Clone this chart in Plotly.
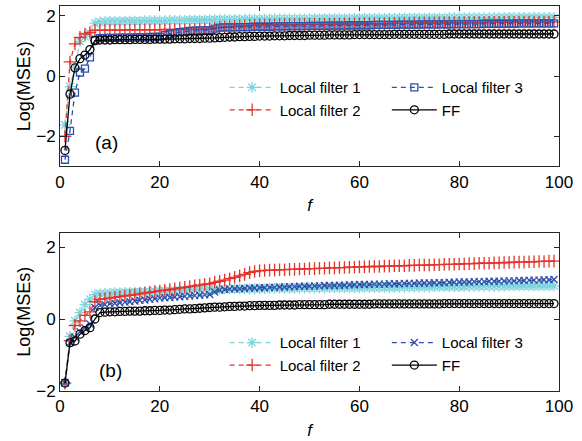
import plotly.graph_objects as go

f = list(range(1, 100))

# ---- panel (a) ----
a_lf1 = [-1.62,-0.35,0.30,1.15,1.32,1.42,1.76,1.80,1.81,1.82,
1.82,1.82,1.83,1.83,1.83,1.83,1.84,1.84,1.84,1.84,
1.84,1.85,1.85,1.85,1.85,1.86,1.86,1.86,1.86,1.87,
1.88,1.88,1.88,1.88,1.88,1.88,1.89,1.89,1.89,1.89,
1.89,1.89,1.90,1.90,1.90,1.90,1.90,1.90,1.90,1.90,
1.91,1.91,1.91,1.91,1.91,1.91,1.91,1.91,1.92,1.92,
1.92,1.92,1.92,1.92,1.92,1.92,1.92,1.93,1.93,1.93,
1.93,1.93,1.93,1.93,1.93,1.93,1.93,1.94,1.94,1.94,
1.94,1.94,1.94,1.94,1.94,1.94,1.94,1.94,1.95,1.95,
1.95,1.95,1.95,1.95,1.95,1.95,1.95,1.95,1.95]
a_lf2 = [-2.00,0.47,1.07,1.29,1.40,1.45,1.52,1.53,1.53,1.53,
1.53,1.53,1.53,1.54,1.54,1.54,1.54,1.54,1.54,1.54,
1.55,1.55,1.55,1.55,1.55,1.55,1.55,1.56,1.56,1.56,
1.60,1.62,1.63,1.64,1.65,1.66,1.67,1.68,1.69,1.70,
1.70,1.70,1.70,1.71,1.71,1.71,1.71,1.71,1.72,1.72,
1.72,1.72,1.72,1.72,1.73,1.73,1.73,1.73,1.73,1.73,
1.74,1.74,1.74,1.74,1.74,1.75,1.75,1.75,1.75,1.75,
1.76,1.76,1.76,1.76,1.76,1.77,1.77,1.77,1.77,1.77,
1.78,1.78,1.78,1.78,1.78,1.79,1.79,1.79,1.79,1.79,
1.79,1.80,1.80,1.80,1.80,1.80,1.80,1.80,1.80]
a_lf3 = [-2.78,-1.82,-0.55,0.12,0.25,0.62,1.20,1.26,1.27,1.27,
1.27,1.28,1.28,1.28,1.29,1.29,1.29,1.30,1.30,1.31,
1.36,1.40,1.43,1.46,1.48,1.50,1.51,1.52,1.52,1.53,
1.58,1.61,1.62,1.62,1.62,1.63,1.63,1.63,1.64,1.64,
1.64,1.64,1.65,1.65,1.65,1.66,1.66,1.66,1.66,1.67,
1.67,1.67,1.67,1.68,1.68,1.68,1.68,1.69,1.69,1.69,
1.69,1.69,1.70,1.70,1.70,1.70,1.70,1.71,1.71,1.71,
1.71,1.71,1.72,1.72,1.72,1.72,1.72,1.72,1.73,1.73,
1.73,1.73,1.73,1.73,1.74,1.74,1.74,1.74,1.74,1.74,
1.74,1.75,1.75,1.75,1.75,1.75,1.75,1.75,1.75]
a_ff = [-2.47,-0.60,0.27,0.58,0.70,0.88,1.18,1.20,1.20,1.20,
1.21,1.21,1.21,1.21,1.22,1.22,1.22,1.22,1.23,1.23,
1.23,1.23,1.24,1.24,1.24,1.25,1.25,1.25,1.26,1.26,
1.27,1.28,1.29,1.30,1.30,1.31,1.31,1.32,1.32,1.33,
1.33,1.33,1.34,1.34,1.34,1.35,1.35,1.35,1.35,1.36,
1.36,1.36,1.36,1.37,1.37,1.37,1.37,1.37,1.38,1.38,
1.38,1.38,1.38,1.38,1.38,1.38,1.39,1.39,1.39,1.39,
1.39,1.39,1.39,1.39,1.39,1.39,1.39,1.40,1.40,1.40,
1.40,1.40,1.40,1.40,1.40,1.40,1.40,1.40,1.40,1.40,
1.40,1.40,1.40,1.40,1.40,1.40,1.40,1.40,1.40]

# ---- panel (b) ----
b_lf1 = [-1.76,-0.48,-0.05,0.18,0.40,0.55,0.68,0.70,0.71,0.72,
0.73,0.73,0.74,0.74,0.75,0.75,0.76,0.76,0.77,0.78,
0.78,0.79,0.79,0.80,0.80,0.81,0.81,0.82,0.82,0.83,
0.83,0.83,0.83,0.84,0.84,0.84,0.84,0.84,0.84,0.84,
0.84,0.85,0.85,0.85,0.85,0.85,0.85,0.86,0.86,0.86,
0.86,0.86,0.86,0.87,0.87,0.87,0.87,0.87,0.87,0.87,
0.88,0.88,0.88,0.88,0.88,0.88,0.88,0.89,0.89,0.89,
0.89,0.89,0.89,0.89,0.90,0.90,0.90,0.90,0.90,0.90,
0.90,0.91,0.91,0.91,0.91,0.91,0.91,0.91,0.91,0.92,
0.92,0.92,0.92,0.92,0.92,0.92,0.92,0.92,0.92]
b_lf2 = [-1.78,-0.60,-0.18,-0.05,0.10,0.20,0.48,0.55,0.56,0.58,
0.60,0.62,0.64,0.66,0.68,0.70,0.72,0.74,0.76,0.78,
0.80,0.82,0.84,0.86,0.88,0.90,0.92,0.94,0.96,0.98,
1.02,1.05,1.08,1.12,1.16,1.20,1.24,1.29,1.32,1.34,
1.35,1.36,1.36,1.37,1.37,1.38,1.38,1.39,1.39,1.40,
1.40,1.41,1.41,1.42,1.42,1.43,1.43,1.44,1.44,1.45,
1.45,1.46,1.46,1.46,1.47,1.47,1.48,1.48,1.48,1.49,
1.49,1.50,1.50,1.50,1.51,1.51,1.52,1.52,1.52,1.53,
1.53,1.54,1.54,1.55,1.55,1.55,1.56,1.56,1.57,1.57,
1.58,1.58,1.58,1.59,1.59,1.60,1.60,1.61,1.61]
b_lf3 = [-1.78,-0.66,-0.50,-0.35,-0.25,-0.14,0.32,0.38,0.40,0.42,
0.44,0.45,0.47,0.48,0.50,0.52,0.53,0.55,0.56,0.58,
0.59,0.60,0.61,0.62,0.63,0.64,0.65,0.66,0.67,0.68,
0.75,0.80,0.82,0.83,0.84,0.84,0.85,0.86,0.86,0.87,
0.87,0.88,0.88,0.89,0.89,0.90,0.90,0.91,0.91,0.91,
0.92,0.92,0.93,0.93,0.93,0.94,0.94,0.95,0.95,0.96,
0.96,0.96,0.97,0.97,0.97,0.98,0.98,0.98,0.99,0.99,
0.99,1.00,1.00,1.00,1.01,1.01,1.01,1.02,1.02,1.03,
1.03,1.03,1.04,1.04,1.04,1.05,1.05,1.05,1.06,1.06,
1.06,1.07,1.07,1.08,1.08,1.08,1.09,1.09,1.10]
b_ff = [-1.78,-0.66,-0.61,-0.42,-0.32,-0.24,0.00,0.18,0.19,0.20,
0.20,0.21,0.21,0.22,0.22,0.22,0.23,0.23,0.24,0.24,
0.25,0.25,0.26,0.27,0.28,0.28,0.29,0.30,0.31,0.32,
0.33,0.33,0.34,0.35,0.35,0.36,0.36,0.37,0.37,0.38,
0.38,0.38,0.38,0.39,0.39,0.39,0.39,0.40,0.40,0.40,
0.40,0.40,0.40,0.41,0.41,0.41,0.41,0.41,0.41,0.41,
0.41,0.41,0.42,0.42,0.42,0.42,0.42,0.42,0.42,0.42,
0.42,0.42,0.42,0.42,0.42,0.42,0.43,0.43,0.43,0.43,
0.43,0.43,0.43,0.43,0.43,0.43,0.43,0.43,0.43,0.43,
0.43,0.43,0.43,0.43,0.43,0.43,0.43,0.43,0.43]

names = ["Local filter 1", "Local filter 2", "Local filter 3", "FF"]
xticks = [0, 20, 40, 60, 80, 100]
yticks = [-2, 0, 2]

CYAN = "#7dd4de"
RED = "#e5332a"
BLUE = "#2f4fa8"
BLACK = "#000000"
FONT = "Liberation Sans, Arial, sans-serif"
AX = "#262626"

fig = go.Figure()

def add(y, name, color, symbol, dash, xa, ya, leg, size=8):
    fig.add_trace(go.Scatter(
        x=f, y=y, name=name, mode="lines+markers",
        line=dict(color=color, width=1.3, dash=dash),
        marker=dict(symbol=symbol, size=size, color=color,
                    line=dict(color=color, width=1.3)),
        xaxis=xa, yaxis=ya, legend=leg,
    ))

# panel (a): left legend column = legend, right column = legend2
add(a_lf1, names[0], CYAN, "asterisk-open", "5px,4px", "x", "y", "legend", 9)
add(a_lf2, names[1], RED, "cross-thin-open", "5px,4px", "x", "y", "legend", 9)
add(a_lf3, names[2], BLUE, "square-open", "5px,4px", "x", "y", "legend2", 7)
add(a_ff, names[3], BLACK, "circle-open", "solid", "x", "y", "legend2", 8)

# panel (b): left column = legend3, right column = legend4
add(b_lf1, names[0], CYAN, "asterisk-open", "5px,4px", "x2", "y2", "legend3", 9)
add(b_lf2, names[1], RED, "cross-thin-open", "5px,4px", "x2", "y2", "legend3", 9)
add(b_lf3, names[2], BLUE, "x-thin-open", "5px,4px", "x2", "y2", "legend4", 7)
add(b_ff, names[3], BLACK, "circle-open", "solid", "x2", "y2", "legend4", 8)

axis_common = dict(
    showgrid=False, zeroline=False, showline=True, linecolor=AX, linewidth=1,
    mirror="ticks", ticks="inside", ticklen=5, tickcolor=AX, tickwidth=1,
    tickfont=dict(family=FONT, size=17, color="#000"),
)

leg_common = dict(orientation="v", xanchor="left", yanchor="top",
                  itemwidth=45, traceorder="normal",
                  bgcolor="rgba(0,0,0,0)", font=dict(family=FONT, size=15),
                  tracegroupgap=0)

fig.update_layout(
    width=582, height=441,
    margin=dict(l=60, r=23, t=5, b=47),
    paper_bgcolor="white", plot_bgcolor="white",
    font=dict(family=FONT, size=17, color="#000"),
    xaxis=dict(domain=[0, 1], range=[0, 100], tickvals=xticks, anchor="y",
               title=dict(text="<i>f</i>", standoff=8, font=dict(size=17)),
               **axis_common),
    yaxis=dict(domain=[0.5835, 1], range=[-3, 2.33], tickvals=yticks,
               ticktext=["\u22122", "0", "2"], anchor="x",
               title=dict(text="Log(MSEs)", standoff=0, font=dict(size=18)),
               **axis_common),
    xaxis2=dict(domain=[0, 1], range=[0, 100], tickvals=xticks, anchor="y2",
                title=dict(text="<i>f</i>", standoff=8, font=dict(size=17)),
                **axis_common),
    yaxis2=dict(domain=[0, 0.4113], range=[-2, 2.4], tickvals=yticks,
                ticktext=["\u22122", "0", "2"], anchor="x2",
                title=dict(text="Log(MSEs)", standoff=0, font=dict(size=18)),
                **axis_common),
    legend=dict(x=0.33, y=0.831, **leg_common),
    legend2=dict(x=0.655, y=0.831, **leg_common),
    legend3=dict(x=0.33, y=0.168, **leg_common),
    legend4=dict(x=0.655, y=0.168, **leg_common),
    annotations=[
        dict(text="(a)", xref="x domain", yref="y domain", x=0.066, y=0.07,
             showarrow=False, font=dict(family=FONT, size=19)),
        dict(text="(b)", xref="x2 domain", yref="y2 domain", x=0.075, y=0.05,
             showarrow=False, font=dict(family=FONT, size=19)),
    ],
)

fig.write_html("out.html")
